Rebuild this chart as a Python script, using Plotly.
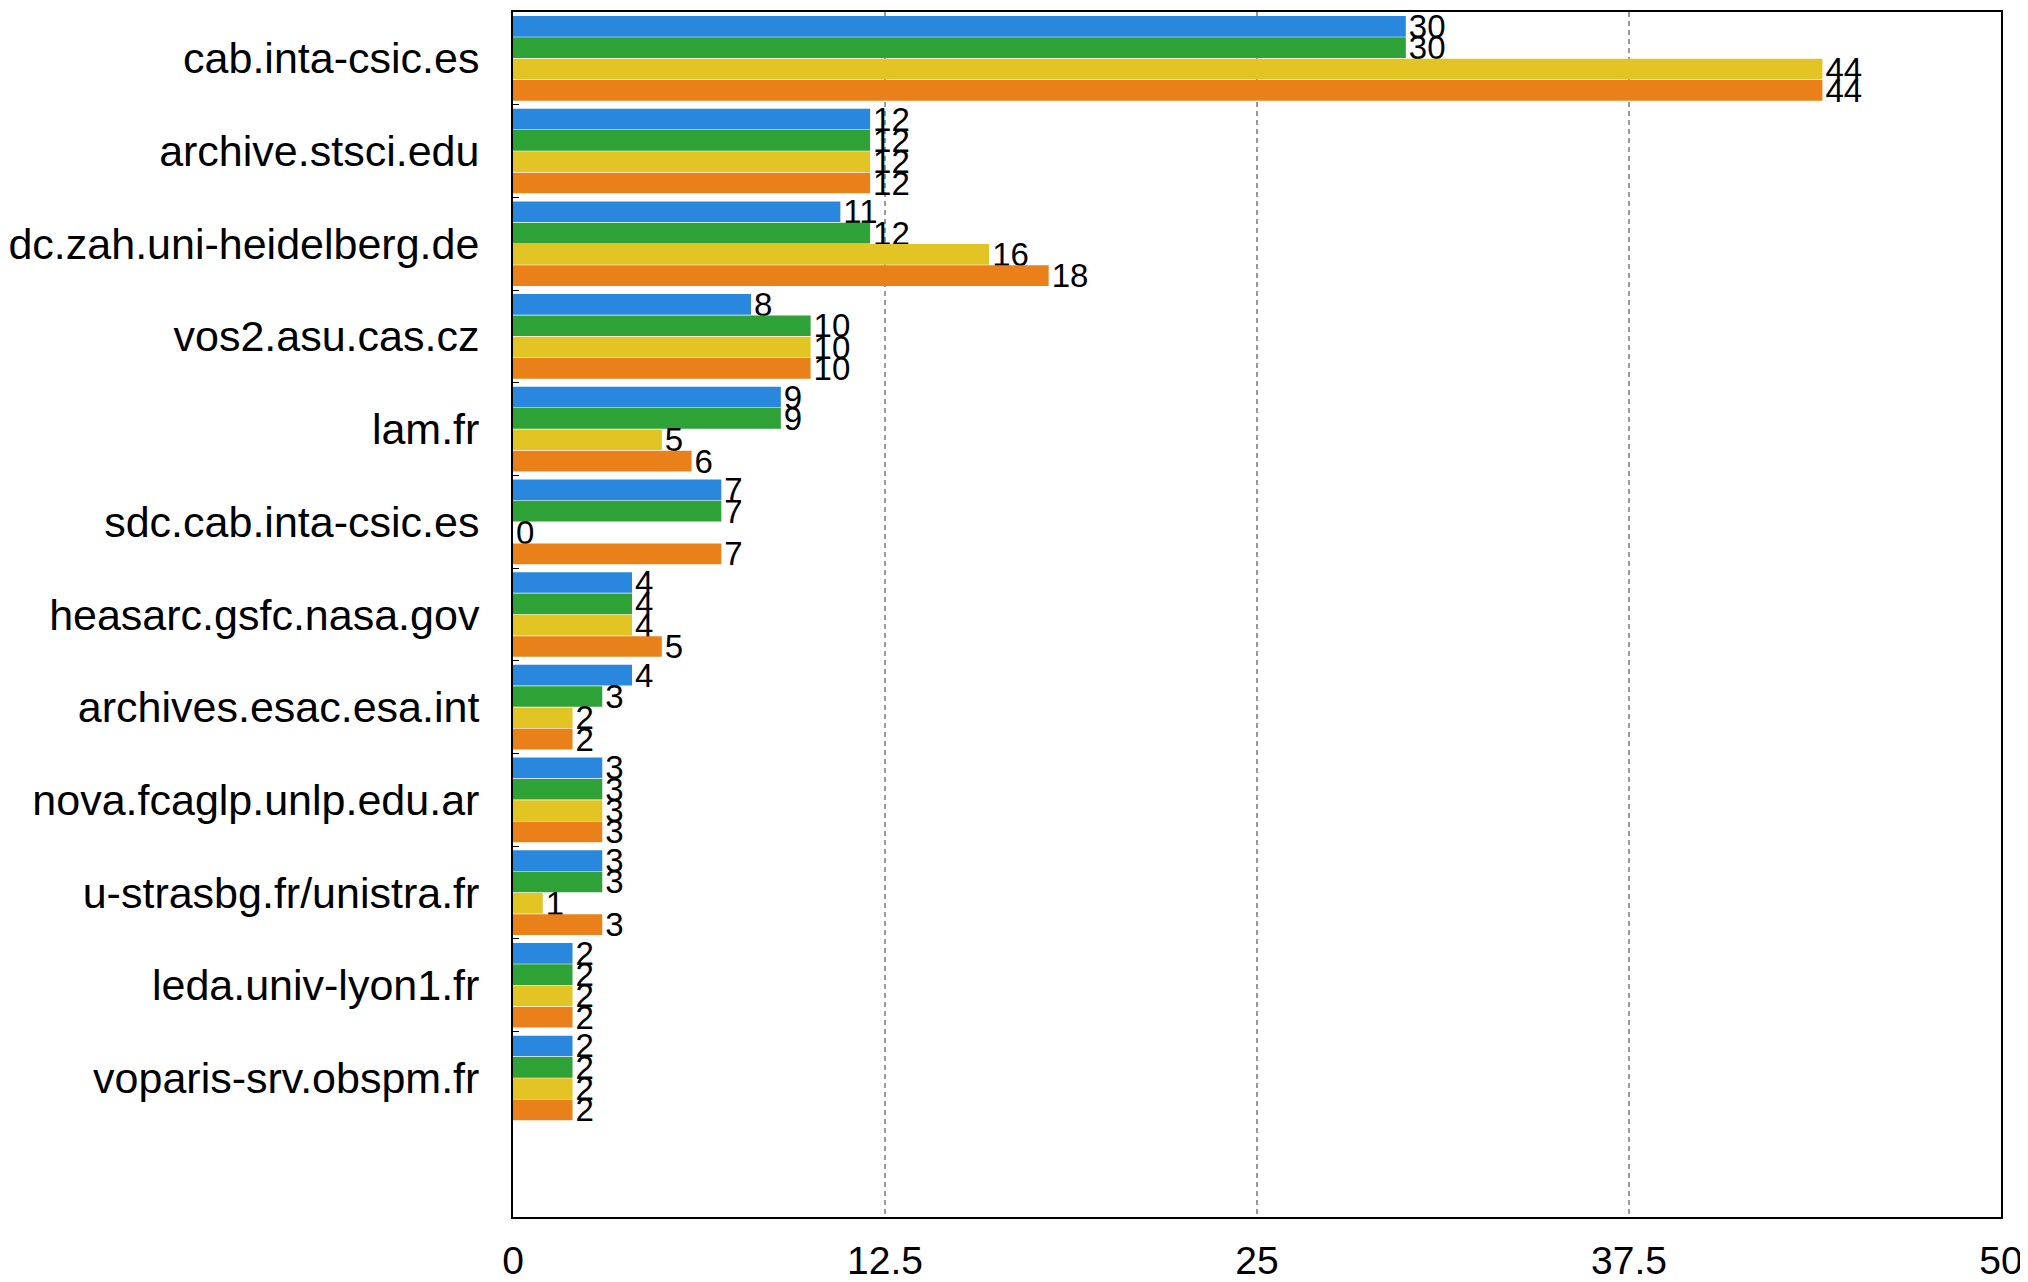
import plotly.graph_objects as go

categories = [
    "cab.inta-csic.es", "archive.stsci.edu", "dc.zah.uni-heidelberg.de",
    "vos2.asu.cas.cz", "lam.fr", "sdc.cab.inta-csic.es",
    "heasarc.gsfc.nasa.gov", "archives.esac.esa.int", "nova.fcaglp.unlp.edu.ar",
    "u-strasbg.fr/unistra.fr", "leda.univ-lyon1.fr", "voparis-srv.obspm.fr",
]
series_blue = [30, 12, 11, 8, 9, 7, 4, 4, 3, 3, 2, 2]
series_green = [30, 12, 12, 10, 9, 7, 4, 3, 3, 3, 2, 2]
series_yellow = [44, 12, 16, 10, 5, 0, 4, 2, 3, 1, 2, 2]
series_orange = [44, 12, 18, 10, 6, 7, 5, 2, 3, 3, 2, 2]
x_ticks = [0, 12.5, 25, 37.5, 50]
x_tick_labels = ["0", "12.5", "25", "37.5", "50"]

series = [
    ("blue", series_blue, "#2a87de"),
    ("green", series_green, "#2ea236"),
    ("yellow", series_yellow, "#e2c425"),
    ("orange", series_orange, "#e9801a"),
]

fig = go.Figure()
for name, vals, col in series:
    fig.add_trace(go.Bar(
        y=categories, x=vals, orientation="h", name=name,
        marker=dict(color=col, line=dict(width=0)),
        text=[str(v) for v in vals], textposition="outside",
        textfont=dict(family="Liberation Sans", size=33, color="#000000"),
        constraintext="none", cliponaxis=False,
    ))

# page body has an 8px margin: figure sized to fit the window
fig.update_layout(
    width=2020, height=1274,
    margin=dict(l=505, r=27, t=4, b=65, autoexpand=False),
    barmode="group", bargap=0.08, bargroupgap=0.03,
    showlegend=False,
    plot_bgcolor="white", paper_bgcolor="white",
    font=dict(family="Liberation Sans", color="#000000"),
)
fig.update_xaxes(
    range=[0, 50], tickvals=x_ticks, ticktext=x_tick_labels,
    showgrid=True, gridcolor="#999999", griddash="5px,4px", gridwidth=1.5,
    zeroline=False, showline=True, linecolor="#000000", linewidth=2, mirror=True,
    ticks="", tickfont=dict(size=39), ticklabelstandoff=8, automargin=False,
)
fig.update_yaxes(
    type="category", categoryorder="array", categoryarray=categories,
    range=[12.5, -0.5], showgrid=False, zeroline=False,
    showline=True, linecolor="#000000", linewidth=2, mirror=True,
    ticks="inside", tickson="boundaries", ticklen=6, tickcolor="#000000",
    tickfont=dict(size=43), ticklabelstandoff=23, automargin=False,
)

fig.write_html("out.html")
